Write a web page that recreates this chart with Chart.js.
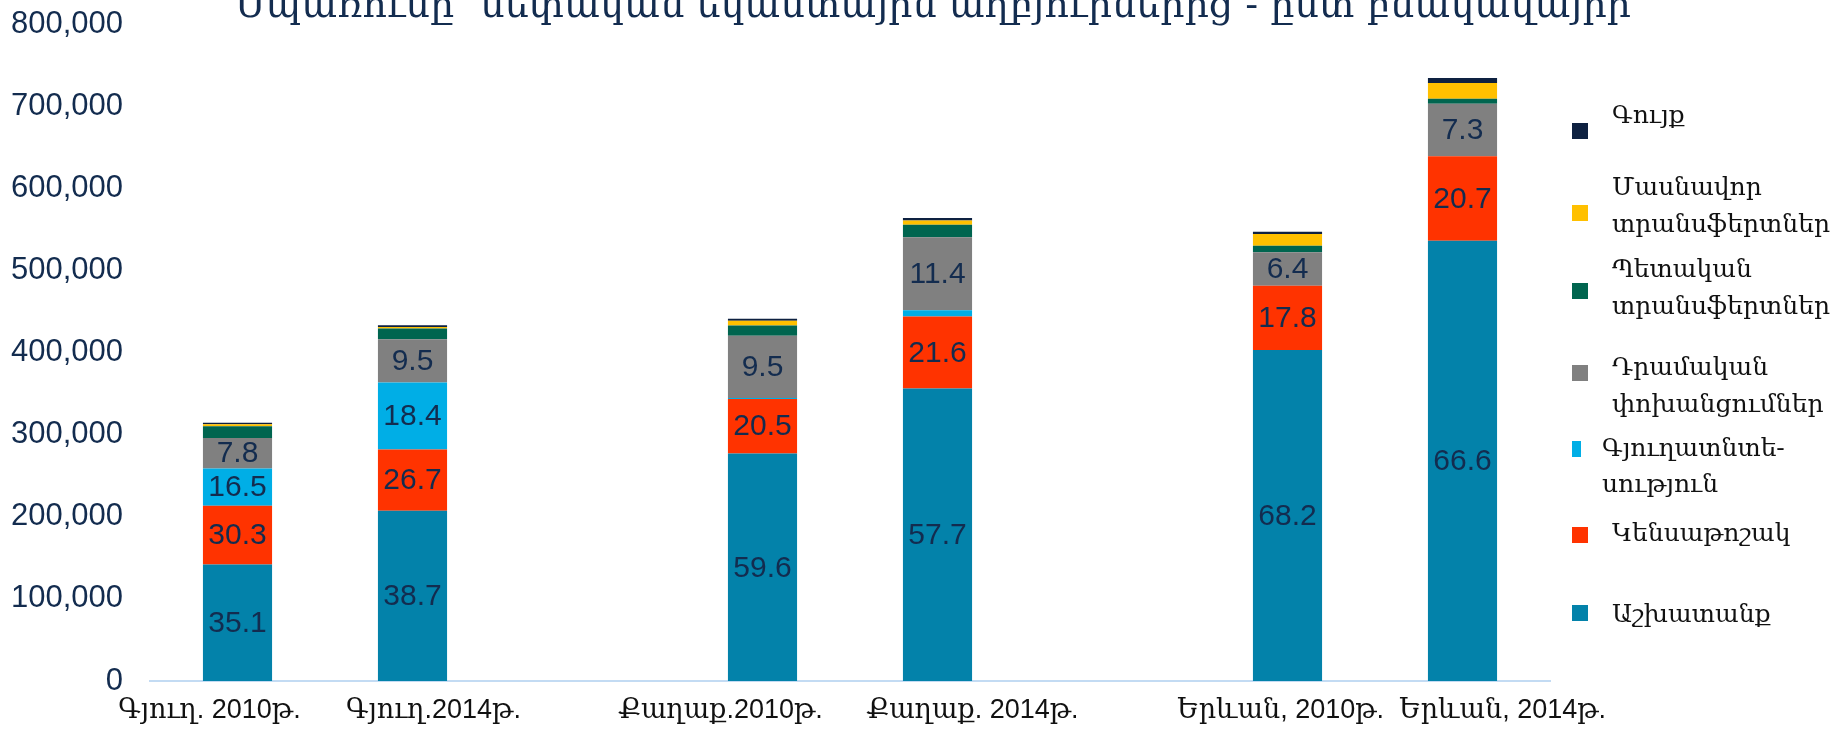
<!DOCTYPE html>
<html lang="hy">
<head>
    <meta charset="UTF-8">
    <title>Սպառումը ըստ բնակավայրի</title>
    <script src="https://cdn.jsdelivr.net/npm/chart.js"></script>
    <style>
        html, body { margin: 0; padding: 0; background: #ffffff; }
        .chart-box { width: 1841px; height: 735px; }
    </style>
</head>
<body>
<div class="chart-box"><canvas id="incomeChart"></canvas></div>
<script>
    // categories (empty slots make the gaps between settlement groups)
    var categories = ['Գյուղ. 2010թ.', 'Գյուղ.2014թ.', '', 'Քաղաք.2010թ.', 'Քաղաք. 2014թ.', '', 'Երևան, 2010թ.', 'Երևան, 2014թ.'];

    // amounts, stacked bottom to top
    var work       = [142000, 207200, null, 277000, 356100, null, 402900, 536100];
    var pension    = [71300, 74700, null, 66500, 87600, null, 78300, 102900];
    var farming    = [45500, 81500, null, 1200, 7700, null, 0, 0];
    var remittance = [37200, 52700, null, 75800, 88800, null, 41000, 64000];
    var stateTr    = [14200, 13000, null, 12500, 15400, null, 7700, 6100];
    var privateTr  = [2500, 2000, null, 5700, 5200, null, 14400, 19000];
    var property   = [1800, 2000, null, 2400, 2900, null, 2600, 6100];

    // percent labels printed inside the segments
    var workPct       = [35.1, 38.7, null, 59.6, 57.7, null, 68.2, 66.6];
    var pensionPct    = [30.3, 26.7, null, 20.5, 21.6, null, 17.8, 20.7];
    var farmingPct    = [16.5, 18.4, null, null, null, null, null, null];
    var remittancePct = [7.8, 9.5, null, 9.5, 11.4, null, 6.4, 7.3];

    var yTicksMax = 800000;
    var yStep = 100000;

    var titleText = 'Սպառումը՝ սեփական եկամտային աղբյուրներից - ըստ բնակավայրի';

    // the category captions in the original are loose text boxes, nudged off-centre
    var captionShift = [-28, 21, 0, -42, 35, 0, -7, 40];

    var navy = '#132c4f';
    var armFont = "'DejaVu Serif'";
    var numFont = "'Liberation Sans', Arial";

    // legend rows: swatch centre y and text line centres y (top to bottom), as placed in the original
    var series = [
        { name: 'Աշխատանք', lines: ['Աշխատանք'], data: work, pct: workPct, color: '#0382aa', sq: 613, ty: [615] },
        { name: 'Կենսաթոշակ', lines: ['Կենսաթոշակ'], data: pension, pct: pensionPct, color: '#ff3300', sq: 535, ty: [534] },
        { name: 'Գյուղատնտեսություն', lines: ['Գյուղատնտե-', 'սություն'], data: farming, pct: farmingPct, color: '#00aee6', sq: 449, ty: [449, 485], narrow: true },
        { name: 'Դրամական փոխանցումներ', lines: ['Դրամական', 'փոխանցումներ'], data: remittance, pct: remittancePct, color: '#808080', sq: 373, ty: [368, 405] },
        { name: 'Պետական տրանսֆերտներ', lines: ['Պետական', 'տրանսֆերտներ'], data: stateTr, pct: null, color: '#00654f', sq: 291, ty: [270, 307] },
        { name: 'Մասնավոր տրանսֆերտներ', lines: ['Մասնավոր', 'տրանսֆերտներ'], data: privateTr, pct: null, color: '#ffc000', sq: 213, ty: [188, 225] },
        { name: 'Գույք', lines: ['Գույք'], data: property, pct: null, color: '#0e2141', sq: 131, ty: [116] }
    ];

    var datasets = series.map(function(s) {
        return {
            label: s.name,
            data: s.data,
            backgroundColor: s.color,
            borderWidth: 0,
            barPercentage: 0.395,
            categoryPercentage: 1.0
        };
    });

    // percent numbers in the middle of each segment
    var segmentLabels = {
        id: 'segmentLabels',
        afterDatasetsDraw: function(chart) {
            var ctx = chart.ctx;
            ctx.save();
            ctx.font = '30px ' + numFont;
            ctx.fillStyle = navy;
            ctx.textAlign = 'center';
            ctx.textBaseline = 'middle';
            series.forEach(function(s, i) {
                if (!s.pct) return;
                chart.getDatasetMeta(i).data.forEach(function(bar, j) {
                    var v = s.pct[j];
                    if (v === null || v === undefined) return;
                    ctx.fillText(v.toFixed(1), bar.x, (bar.y + bar.base) / 2 + 1);
                });
            });
            ctx.restore();
        }
    };

    // category captions under the axis
    var categoryCaptions = {
        id: 'categoryCaptions',
        afterDraw: function(chart) {
            var ctx = chart.ctx;
            var xs = chart.scales.x;
            ctx.save();
            ctx.font = '27px ' + numFont + ', ' + armFont;
            ctx.fillStyle = '#111111';
            ctx.textAlign = 'center';
            ctx.textBaseline = 'middle';
            categories.forEach(function(c, i) {
                if (!c) return;
                ctx.fillText(c, xs.getPixelForValue(i) + captionShift[i], chart.chartArea.bottom + 30);
            });
            ctx.restore();
        }
    };

    // legend on the right
    var sideLegend = {
        id: 'sideLegend',
        afterDraw: function(chart) {
            var ctx = chart.ctx;
            var x0 = chart.chartArea.right + 22;
            ctx.save();
            ctx.font = '25px ' + armFont;
            ctx.textBaseline = 'middle';
            series.forEach(function(s) {
                ctx.fillStyle = s.color;
                ctx.fillRect(x0, s.sq - 8, s.narrow ? 9 : 16, 16);
                ctx.fillStyle = '#111111';
                var tx = s.narrow ? x0 + 30 : x0 + 40;
                s.lines.forEach(function(line, k) {
                    ctx.fillText(line, tx, s.ty[k]);
                });
            });
            ctx.restore();
        }
    };

    // title sits half cut off at the top edge
    var cutTitle = {
        id: 'cutTitle',
        afterDraw: function(chart) {
            var ctx = chart.ctx;
            ctx.save();
            ctx.font = '30px ' + armFont;
            var w = ctx.measureText(titleText).width;
            var size = 30 * 1397 / w;
            ctx.font = size.toFixed(1) + 'px ' + armFont;
            ctx.fillStyle = navy;
            ctx.textAlign = 'center';
            ctx.textBaseline = 'alphabetic';
            ctx.fillText(titleText, 933, 17);
            ctx.restore();
        }
    };

    var ctx = document.getElementById('incomeChart').getContext('2d');
    new Chart(ctx, {
        type: 'bar',
        data: { labels: categories, datasets: datasets },
        options: {
            responsive: true,
            maintainAspectRatio: false,
            animation: false,
            layout: { padding: { left: 0, right: 291, top: 24, bottom: 0 } },
            plugins: {
                legend: { display: false },
                title: { display: false },
                tooltip: { enabled: false }
            },
            scales: {
                x: {
                    stacked: true,
                    grid: { display: false, drawTicks: false },
                    border: { display: true, color: '#c3dbf3', width: 2 },
                    ticks: { display: false },
                    afterFit: function(scale) { scale.height = 54; }
                },
                y: {
                    stacked: true,
                    min: 0,
                    max: yTicksMax,
                    grid: { display: false, drawTicks: false },
                    border: { display: false },
                    ticks: {
                        stepSize: yStep,
                        color: navy,
                        padding: 27,
                        font: { family: numFont, size: 31 },
                        callback: function(v) { return v.toLocaleString('en-US'); }
                    },
                    afterFit: function(scale) {
                        scale.width = 150;
                        scale.paddingTop = 0;
                        scale.paddingBottom = 0;
                    }
                }
            }
        },
        plugins: [segmentLabels, categoryCaptions, sideLegend, cutTitle]
    });
</script>
</body>
</html>
